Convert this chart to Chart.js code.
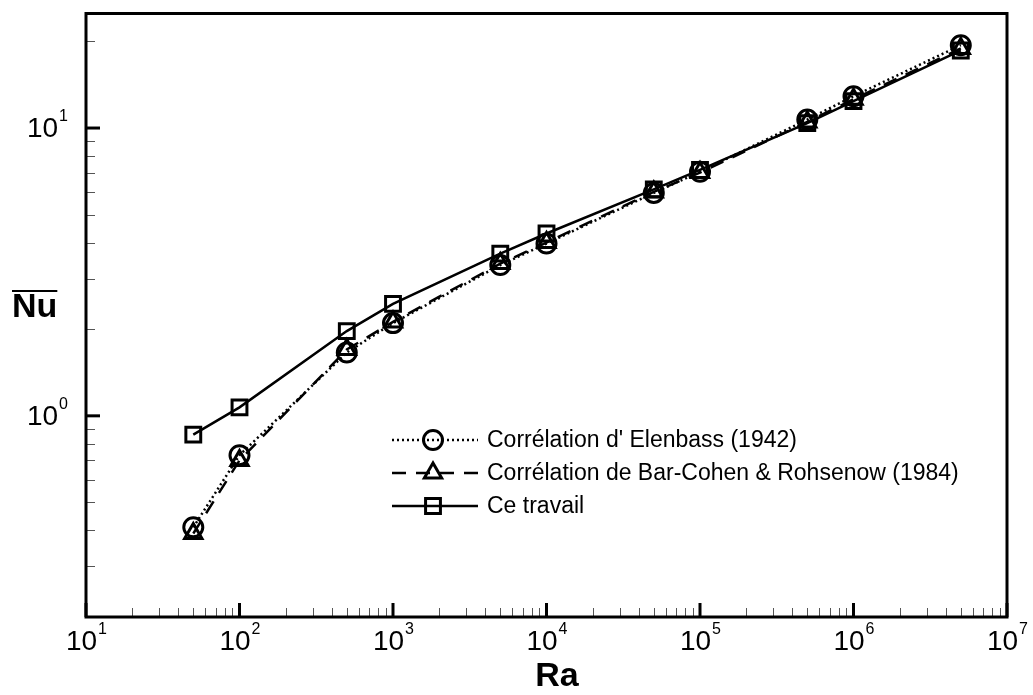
<!DOCTYPE html>
<html>
<head>
<meta charset="utf-8">
<script src="https://cdn.jsdelivr.net/npm/chart.js@4/dist/chart.umd.min.js"></script>
<style>
  html, body { margin: 0; padding: 0; background: #fff; }
  #wrap { width: 1033px; height: 695px; }
</style>
</head>
<body>
<div id="wrap"><canvas id="graf" width="1033" height="695"></canvas></div>
<script>
// Nombres de Rayleigh
const ra = [50, 100, 500, 1000, 5000, 10000, 50000, 100000, 500000, 1000000, 5000000];

// Nusselt moyen
const nuElenbass = [0.41, 0.73, 1.66, 2.10, 3.34, 3.97, 5.95, 7.05, 10.7, 12.9, 19.4];
const nuBarCohen = [0.39, 0.70, 1.70, 2.12, 3.38, 4.00, 6.00, 7.00, 10.5, 12.6, 18.9];
const nuTravail  = [0.86, 1.07, 1.97, 2.45, 3.66, 4.30, 6.12, 7.15, 10.4, 12.4, 18.6];

const nomsSeries = [
  "Corrélation d' Elenbass (1942)",
  "Corrélation de Bar-Cohen & Rohsenow (1984)",
  "Ce travail"
];

// graduations (exposants des puissances de 10)
const xExposants = [1, 2, 3, 4, 5, 6, 7];
const yExposants = [0, 1];

const POLICE = '"Liberation Sans", Arial, sans-serif';

function pts(xs, ys) {
  return xs.map((x, i) => ({ x: x, y: ys[i] }));
}

// cadre, graduations vers l'intérieur, étiquettes 10^n, titres, légende
const decorPlugin = {
  id: 'decor',
  afterDraw(chart) {
    const ctx = chart.ctx;
    const a = chart.chartArea;
    const sx = chart.scales.x, sy = chart.scales.y;
    ctx.save();
    ctx.lineCap = 'butt';

    // graduations secondaires
    ctx.lineWidth = 1;
    ctx.strokeStyle = '#555';
    for (let e = 1; e < 7; e++) {
      for (let m = 2; m <= 9; m++) {
        const px = Math.round(sx.getPixelForValue(m * Math.pow(10, e))) + 0.5;
        ctx.beginPath(); ctx.moveTo(px, a.bottom); ctx.lineTo(px, a.bottom - 9); ctx.stroke();
      }
    }
    for (let e = -1; e <= 1; e++) {
      for (let m = 2; m <= 9; m++) {
        const v = m * Math.pow(10, e);
        if (v < sy.min || v > sy.max) continue;
        const py = Math.round(sy.getPixelForValue(v)) + 0.5;
        ctx.beginPath(); ctx.moveTo(a.left, py); ctx.lineTo(a.left + 9, py); ctx.stroke();
      }
    }

    // graduations principales
    ctx.strokeStyle = '#000';
    ctx.lineWidth = 3;
    xExposants.forEach(e => {
      const px = sx.getPixelForValue(Math.pow(10, e));
      ctx.beginPath(); ctx.moveTo(px, a.bottom); ctx.lineTo(px, a.bottom - 14); ctx.stroke();
    });
    yExposants.forEach(e => {
      const py = sy.getPixelForValue(Math.pow(10, e));
      ctx.beginPath(); ctx.moveTo(a.left, py); ctx.lineTo(a.left + 14, py); ctx.stroke();
    });

    // cadre
    ctx.lineWidth = 3;
    ctx.strokeRect(a.left, a.top, a.right - a.left, a.bottom - a.top);

    // étiquettes
    ctx.fillStyle = '#000';
    ctx.textBaseline = 'middle';
    const fBase = '28px ' + POLICE, fExp = '16px ' + POLICE;
    function largeur(e) {
      ctx.font = fBase; const w1 = ctx.measureText('10').width;
      ctx.font = fExp; const w2 = ctx.measureText(String(e)).width;
      return [w1, w2];
    }
    xExposants.forEach(e => {
      const px = sx.getPixelForValue(Math.pow(10, e));
      const [w1, w2] = largeur(e);
      const x0 = px - (w1 + w2) / 2;
      ctx.textAlign = 'left';
      ctx.font = fBase; ctx.fillText('10', x0, a.bottom + 25);
      ctx.font = fExp; ctx.fillText(String(e), x0 + w1 + 1, a.bottom + 13);
    });
    yExposants.forEach(e => {
      const py = sy.getPixelForValue(Math.pow(10, e));
      const [w1, w2] = largeur(e);
      const x0 = a.left - 18 - w2 - 1 - w1;
      ctx.textAlign = 'left';
      ctx.font = fBase; ctx.fillText('10', x0, py + 1);
      ctx.font = fExp; ctx.fillText(String(e), x0 + w1 + 1, py - 11);
    });

    // titres des axes
    ctx.font = 'bold 34px ' + POLICE;
    ctx.textAlign = 'center';
    ctx.fillText('Ra', 557, a.bottom + 60);
    ctx.textAlign = 'left';
    const wNu = ctx.measureText('Nu').width;
    ctx.fillText('Nu', 12, 308);
    ctx.lineWidth = 2;
    ctx.beginPath(); ctx.moveTo(12, 291); ctx.lineTo(12 + wNu, 291); ctx.stroke();

    // légende
    const x1 = 392, x2 = 478, xm = 433, xt = 487;
    const y0 = 440, dy = 33;
    chart.data.datasets.forEach((ds, i) => {
      const y = y0 + i * dy;
      ctx.strokeStyle = '#000';
      ctx.lineWidth = ds.borderWidth;
      ctx.setLineDash(ds.borderDash || []);
      ctx.beginPath(); ctx.moveTo(x1, y); ctx.lineTo(x2, y); ctx.stroke();
      ctx.setLineDash([]);
      ctx.lineWidth = ds.pointBorderWidth;
      marqueur(ctx, ds.pointStyle, xm, y, ds.pointRadius);
      ctx.font = '23px ' + POLICE;
      ctx.textBaseline = 'middle';
      ctx.fillText(ds.label, xt, y + 1);
    });
    ctx.restore();
  }
};

function marqueur(ctx, style, x, y, r) {
  ctx.beginPath();
  if (style === 'circle') {
    ctx.arc(x, y, r, 0, Math.PI * 2);
  } else if (style === 'triangle') {
    ctx.moveTo(x, y - r);
    ctx.lineTo(x + r * Math.sin(Math.PI * 2 / 3), y - r * Math.cos(Math.PI * 2 / 3));
    ctx.lineTo(x - r * Math.sin(Math.PI * 2 / 3), y - r * Math.cos(Math.PI * 2 / 3));
    ctx.closePath();
  } else {
    const s = r * Math.SQRT1_2;
    ctx.rect(x - s, y - s, 2 * s, 2 * s);
  }
  ctx.stroke();
}

new Chart(document.getElementById('graf'), {
  type: 'scatter',
  data: {
    datasets: [
      {
        label: nomsSeries[0],
        data: pts(ra, nuElenbass),
        showLine: true,
        borderColor: '#000',
        borderWidth: 2.5,
        borderDash: [2, 3],
        pointStyle: 'circle',
        pointRadius: 9.5,
        pointBorderWidth: 3,
        pointBorderColor: '#000',
        pointBackgroundColor: 'rgba(0,0,0,0)'
      },
      {
        label: nomsSeries[1],
        data: pts(ra, nuBarCohen),
        showLine: true,
        borderColor: '#000',
        borderWidth: 2.5,
        borderDash: [14, 10],
        pointStyle: 'triangle',
        pointRadius: 10,
        pointBorderWidth: 3,
        pointBorderColor: '#000',
        pointBackgroundColor: 'rgba(0,0,0,0)'
      },
      {
        label: nomsSeries[2],
        data: pts(ra, nuTravail),
        showLine: true,
        borderColor: '#000',
        borderWidth: 2.5,
        pointStyle: 'rect',
        pointRadius: 10.5,
        pointBorderWidth: 3,
        pointBorderColor: '#000',
        pointBackgroundColor: 'rgba(0,0,0,0)'
      }
    ]
  },
  options: {
    responsive: false,
    animation: false,
    layout: { padding: { left: 86, top: 10, right: 26, bottom: 78 } },
    plugins: { legend: { display: false }, tooltip: { enabled: false } },
    scales: {
      x: { type: 'logarithmic', min: 10, max: 1e7, display: false },
      y: { type: 'logarithmic', min: 0.2, max: 25, display: false }
    }
  },
  plugins: [decorPlugin]
});
</script>
</body>
</html>
